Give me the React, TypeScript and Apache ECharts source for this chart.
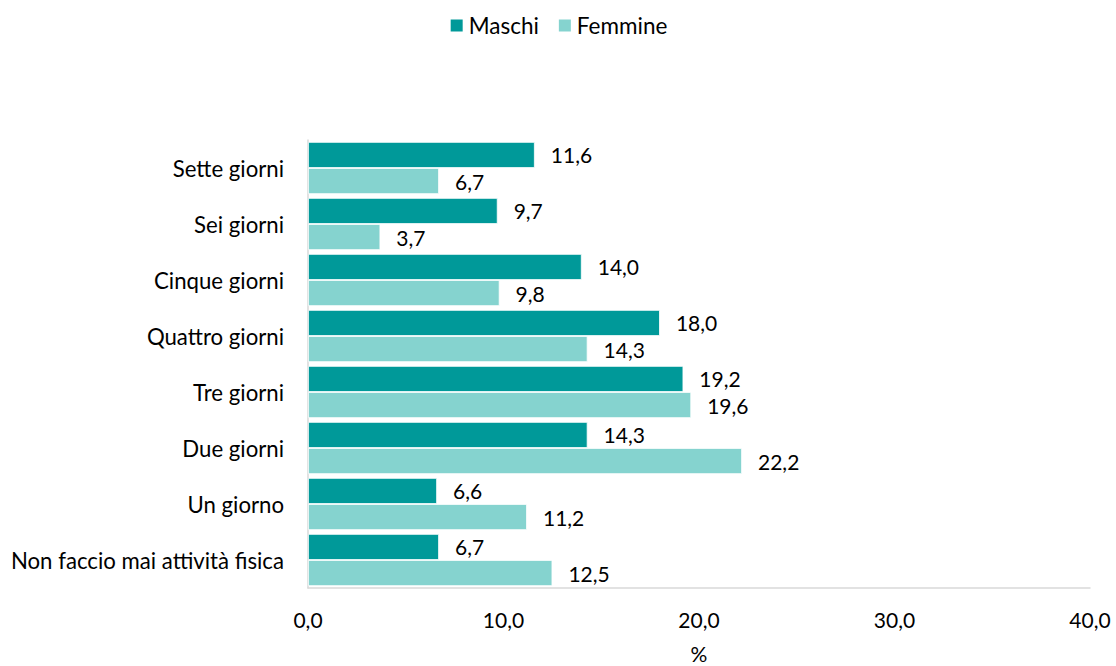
import React, { useEffect, useRef } from "react";
import * as echarts from "echarts";

const categories = [
  "Sette giorni",
  "Sei giorni",
  "Cinque giorni",
  "Quattro giorni",
  "Tre giorni",
  "Due giorni",
  "Un giorno",
  "Non faccio mai attività fisica",
];
const maschi = [11.6, 9.7, 14.0, 18.0, 19.2, 14.3, 6.6, 6.7];
const femmine = [6.7, 3.7, 9.8, 14.3, 19.6, 22.2, 11.2, 12.5];
const xTicks = [0, 10, 20, 30, 40];

const FONT = "Lato";
const FS = 21;
const fmt = (v: number) => v.toFixed(1).replace(".", ",");

export default function App() {
  const ref = useRef<HTMLDivElement>(null);
  useEffect(() => {
    if (!ref.current) return;
    const chart = echarts.init(ref.current, undefined, { renderer: "svg" });
    const label = {
      show: true,
      position: "right",
      distance: 16,
      fontSize: FS,
      color: "#000",
      fontFamily: FONT,
      formatter: (p: any) => fmt(p.value),
    };
    chart.setOption({
      animation: false,
      textStyle: { fontFamily: FONT },
      legend: {
        top: 9,
        left: "center",
        itemWidth: 14,
        itemHeight: 14,
        itemGap: 18,
        icon: "rect",
        textStyle: { fontSize: 22.5, color: "#000", fontFamily: FONT },
        data: ["Maschi", "Femmine"],
      },
      grid: { left: 308, right: 26, top: 140, bottom: 78, outerBoundsMode: "none", containLabel: false },
      xAxis: {
        type: "value",
        min: xTicks[0],
        max: xTicks[xTicks.length - 1],
        interval: 10,
        name: "%",
        nameLocation: "middle",
        nameGap: 55,
        nameTextStyle: { fontSize: FS, color: "#000", fontFamily: FONT },
        axisLine: { show: true, lineStyle: { color: "#d9d9d9", width: 1.5 } },
        axisTick: { show: false },
        splitLine: { show: false },
        axisLabel: {
          fontSize: FS,
          color: "#000",
          margin: 21,
          fontFamily: FONT,
          formatter: (v: number) => fmt(v),
        },
      },
      yAxis: {
        type: "category",
        inverse: true,
        data: categories,
        axisLine: { show: true, lineStyle: { color: "#d9d9d9", width: 1.5 } },
        axisTick: { show: false },
        axisLabel: { fontSize: 22.2, color: "#000", margin: 24, fontFamily: FONT },
      },
      series: [
        {
          name: "Maschi",
          type: "bar",
          data: maschi,
          barGap: "0%",
          barCategoryGap: "7%",
          itemStyle: { color: "#009999", borderColor: "#ffffff", borderWidth: 0.8 },
          label,
        },
        {
          name: "Femmine",
          type: "bar",
          data: femmine,
          itemStyle: { color: "#85d3cf", borderColor: "#ffffff", borderWidth: 0.8 },
          label,
        },
      ],
    });
    return () => chart.dispose();
  }, []);
  return (
    <div
      ref={ref}
      style={{ position: "absolute", left: 0, top: 0, width: 1116, height: 666 }}
    />
  );
}
